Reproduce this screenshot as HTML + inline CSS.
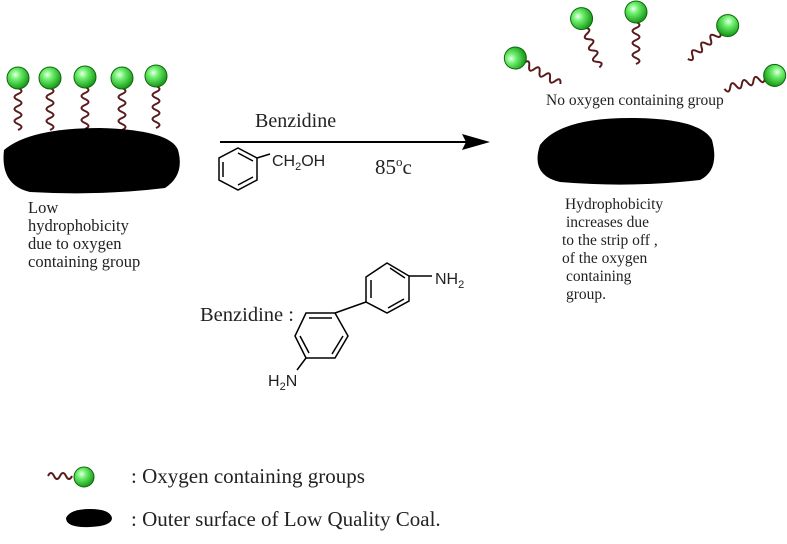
<!DOCTYPE html>
<html><head><meta charset="utf-8"><style>
html,body{margin:0;padding:0;background:#fff;}
svg{display:block;}
text{font-family:"Liberation Serif",serif;fill:#222;}
.s{font-family:"Liberation Sans",sans-serif;}
</style></head><body>
<svg width="787" height="544" viewBox="0 0 787 544">
<defs>
<radialGradient id="g" cx="0.38" cy="0.35" r="0.65">
<stop offset="0" stop-color="#eaffea"/><stop offset="0.35" stop-color="#6ef06e"/><stop offset="1" stop-color="#1a9a1a"/>
</radialGradient>
<path id="w" d="M0 0 q7 3 0 6 t0 6 t0 6 t0 6 t0 6 t0 6 t0 6" fill="none" stroke="#5a1a1a" stroke-width="2"/>
<g id="m"><use href="#w"/><circle cx="0" cy="-10" r="11" fill="url(#g)" stroke="#0a6a0a" stroke-width="1"/></g>
</defs>
<!-- left -->
<use href="#m" x="18" y="88"/>
<use href="#m" x="50" y="88"/>
<use href="#m" x="85" y="87"/>
<use href="#m" x="122" y="88"/>
<use href="#m" x="156" y="86"/>
<path d="M4 150 Q30 128 100 128 Q170 130 178 150 Q185 175 165 188 Q100 196 30 192 Q0 185 4 150Z" fill="#000"/>
<text x="28" y="213" font-size="16.5">Low</text>
<text x="28" y="231" font-size="16.5">hydrophobicity</text>
<text x="28" y="249" font-size="16.5">due to oxygen</text>
<text x="28" y="267" font-size="16.5">containing group</text>
<!-- arrow -->
<line x1="220" y1="142" x2="470" y2="142" stroke="#000" stroke-width="2"/>
<path d="M490 142 L462 134 L466 142 L462 150Z" fill="#000"/>
<text x="255" y="127" font-size="20">Benzidine</text>
<g fill="none" stroke="#000" stroke-width="1.5">
<path d="M238 148 L257 158 L257 180 L238 190 L219 180 L219 158Z"/>
<path d="M238 153 L253 161 M253 177 L238 185 M223 162 L223 177"/>
<path d="M257 158 L270 154"/>
</g>
<text class="s" x="272" y="166" font-size="16">CH<tspan font-size="11" dy="4">2</tspan><tspan dy="-4">OH</tspan></text>
<text x="375" y="174" font-size="21">85<tspan font-size="13" dy="-8">o</tspan><tspan dy="8">c</tspan></text>
<!-- right -->
<use href="#m" transform="translate(524,63) rotate(-60)"/>
<use href="#m" transform="translate(585,28) rotate(-20)"/>
<use href="#m" x="636" y="22"/>
<use href="#m" transform="translate(720,32) rotate(50)"/>
<use href="#m" transform="translate(765,78) rotate(75)"/>
<text x="546" y="105" font-size="15.5">No oxygen containing group</text>
<path d="M540 145 Q560 118 630 118 Q700 118 712 140 Q720 170 700 180 Q630 188 560 182 Q530 175 540 145Z" fill="#000"/>
<text x="565" y="209" font-size="15.5">Hydrophobicity</text>
<text x="566" y="227" font-size="15.5">increases due</text>
<text x="562" y="245" font-size="15.5">to the strip off ,</text>
<text x="562" y="263" font-size="15.5">of the oxygen</text>
<text x="566" y="281" font-size="15.5">containing</text>
<text x="566" y="299" font-size="15.5">group.</text>
<!-- benzidine -->
<text x="200" y="321" font-size="20.5">Benzidine :</text>
<g fill="none" stroke="#000" stroke-width="1.5">
<path d="M306 313 L335 313 L348 336 L335 358 L306 358 L295 336Z"/>
<path d="M309 318 L332 318 M343 336 L332 354 M300 336 L309 353" />
<path d="M335 313 L366 302"/>
<path d="M366 302 L366 277 L387 263 L409 276 L409 301 L387 313Z"/>
<path d="M371 298 L371 280 M390 268 L405 278 M404 299 L388 308"/>
<path d="M409 276 L432 276"/>
<path d="M306 358 L297 370"/>
</g>
<text class="s" x="435" y="284" font-size="16">NH<tspan font-size="11" dy="4">2</tspan></text>
<text class="s" x="268" y="386" font-size="16">H<tspan font-size="11" dy="4">2</tspan><tspan dy="-4">N</tspan></text>
<!-- legend -->
<path d="M48 476 q3 -6 6 0 t6 0 t6 0 t6 0" fill="none" stroke="#5a1a1a" stroke-width="2"/>
<circle cx="84" cy="477" r="10" fill="url(#g)" stroke="#0a6a0a"/>
<text x="131" y="483" font-size="21">: Oxygen containing groups</text>
<path d="M66 518 Q70 509 90 509 Q110 509 112 518 Q112 526 90 527 Q66 528 66 518Z" fill="#000"/>
<text x="131" y="526" font-size="21">: Outer surface of Low Quality Coal.</text>
</svg>
</body></html>
